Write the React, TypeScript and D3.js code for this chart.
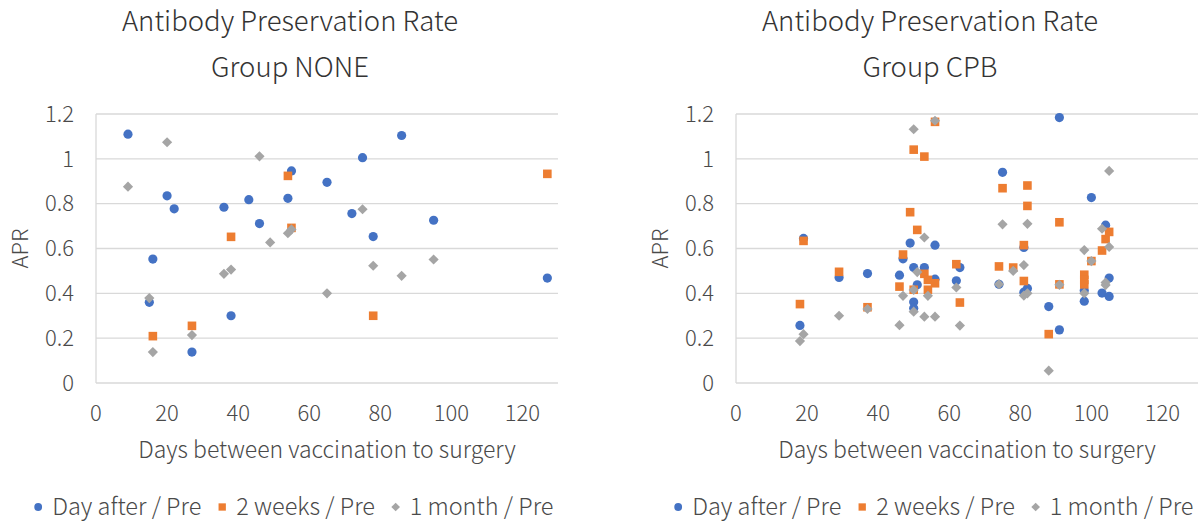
import React, { useEffect, useRef } from 'react';
import * as d3 from 'd3';

const xTicks = [0, 20, 40, 60, 80, 100, 120];
const yTicks = [0, 0.2, 0.4, 0.6, 0.8, 1, 1.2];
const seriesNames = ['Day after / Pre', '2 weeks / Pre', '1 month / Pre'];
const seriesColors = ['#4472C4', '#ED7D31', '#A5A5A5'];

// [days, APR]
const noneDayAfter = [
  [9, 1.11], [15, 0.36], [16, 0.553], [20, 0.835], [22, 0.777], [27, 0.138], [36, 0.784],
  [38, 0.3], [43, 0.818], [46, 0.711], [54, 0.824], [55, 0.946], [65, 0.895], [72, 0.756],
  [75, 1.005], [78, 0.653], [86, 1.104], [95, 0.726], [127, 0.468],
];
const noneTwoWeeks = [
  [16, 0.209], [27, 0.255], [38, 0.652], [54, 0.924], [55, 0.692], [78, 0.3], [127, 0.933],
];
const noneOneMonth = [
  [9, 0.876], [15, 0.379], [16, 0.138], [20, 1.074], [27, 0.214], [36, 0.487], [38, 0.506],
  [46, 1.011], [49, 0.627], [54, 0.668], [55, 0.685], [65, 0.4], [75, 0.775], [78, 0.523],
  [86, 0.478], [95, 0.551],
];

const cpbDayAfter = [
  [18, 0.257], [19, 0.645], [29, 0.471], [37, 0.488], [46, 0.481], [47, 0.554], [49, 0.624],
  [50, 0.515], [50, 0.361], [50, 0.334], [51, 0.438], [53, 0.515], [56, 0.615], [56, 0.463],
  [62, 0.456], [63, 0.515], [74, 0.44], [75, 0.94], [81, 0.605], [81, 0.405], [82, 0.422],
  [88, 0.341], [91, 1.184], [91, 0.237], [98, 0.413], [98, 0.365], [100, 0.827], [103, 0.401],
  [104, 0.704], [105, 0.468], [105, 0.386],
];
const cpbTwoWeeks = [
  [18, 0.352], [19, 0.634], [29, 0.496], [37, 0.338], [46, 0.43], [47, 0.573], [49, 0.762],
  [50, 1.041], [50, 0.416], [51, 0.683], [53, 1.01], [53, 0.487], [54, 0.46], [54, 0.416],
  [56, 1.165], [56, 0.445], [62, 0.53], [63, 0.359], [74, 0.52], [75, 0.869], [78, 0.515],
  [81, 0.615], [81, 0.455], [82, 0.881], [82, 0.79], [88, 0.218], [91, 0.717], [91, 0.44],
  [98, 0.483], [98, 0.46], [98, 0.44], [100, 0.544], [103, 0.591], [104, 0.642], [105, 0.674],
];
const cpbOneMonth = [
  [18, 0.187], [19, 0.218], [29, 0.3], [37, 0.33], [46, 0.258], [47, 0.389], [50, 1.132],
  [50, 0.415], [50, 0.318], [51, 0.495], [53, 0.649], [53, 0.296], [54, 0.389], [56, 1.17],
  [56, 0.296], [62, 0.426], [63, 0.256], [74, 0.441], [75, 0.708], [78, 0.5], [81, 0.526],
  [81, 0.39], [82, 0.71], [82, 0.4], [88, 0.055], [91, 0.438], [98, 0.593], [98, 0.4],
  [100, 0.544], [103, 0.688], [104, 0.448], [104, 0.437], [105, 0.607], [105, 0.946],
];

const charts = [
  { title: 'Group NONE', offset: 0, series: [noneDayAfter, noneTwoWeeks, noneOneMonth] },
  { title: 'Group CPB', offset: 640, series: [cpbDayAfter, cpbTwoWeeks, cpbOneMonth] },
];

const FONT = '"Noto Sans CJK JP", "Noto Sans", sans-serif';
const TEXT = '#4a4a4a';
const GRID = '#D9D9D9';

function addMarker(g, i, cx, cy, scale = 1) {
  if (i === 0) {
    g.append('circle').attr('cx', cx).attr('cy', cy).attr('r', 4.6 * scale)
      .attr('fill', seriesColors[0]);
  } else if (i === 1) {
    const s = 8.6 * scale;
    g.append('rect').attr('x', cx - s / 2).attr('y', cy - s / 2).attr('width', s).attr('height', s)
      .attr('fill', seriesColors[1]);
  } else {
    g.append('path')
      .attr('d', d3.symbol(d3.symbolSquare, 52 * scale * scale)())
      .attr('transform', `translate(${cx},${cy}) rotate(45)`)
      .attr('fill', seriesColors[2]);
  }
}

function drawChart(svg, chart) {
  const off = chart.offset;
  const x = d3.scaleLinear().domain([0, 130]).range([96 + off, 558 + off]);
  const y = d3.scaleLinear().domain([0, 1.2]).range([383, 114]);
  const g = svg.append('g').attr('font-family', FONT).attr('font-weight', 300).attr('fill', TEXT);

  const cx = 290 + off;
  g.append('text').attr('x', cx).attr('y', 31).attr('text-anchor', 'middle')
    .attr('font-size', 27.5).attr('fill', '#333').text('Antibody Preservation Rate');
  g.append('text').attr('x', cx).attr('y', 77).attr('text-anchor', 'middle')
    .attr('font-size', 27.5).attr('fill', '#333').text(chart.title);

  g.selectAll('line.grid').data(yTicks).join('line')
    .attr('x1', x(0)).attr('x2', x(130)).attr('y1', (d) => y(d)).attr('y2', (d) => y(d))
    .attr('stroke', GRID).attr('stroke-width', 1.3);
  g.append('line').attr('x1', x(0)).attr('x2', x(0)).attr('y1', y(0)).attr('y2', y(1.2))
    .attr('stroke', GRID).attr('stroke-width', 1.3);

  g.selectAll('text.ytick').data(yTicks).join('text')
    .attr('x', x(0) - 22).attr('y', (d) => y(d)).attr('dy', '0.35em')
    .attr('text-anchor', 'end').attr('font-size', 22)
    .text((d) => d3.format('~g')(d));
  g.selectAll('text.xtick').data(xTicks).join('text')
    .attr('x', (d) => x(d)).attr('y', 413).attr('dy', '0.35em')
    .attr('text-anchor', 'middle').attr('font-size', 22)
    .text((d) => d);

  g.append('text').attr('x', (x(0) + x(130)) / 2).attr('y', 458).attr('text-anchor', 'middle')
    .attr('font-size', 23).text('Days between vaccination to surgery');
  g.append('text').attr('transform', `translate(${20 + off},${(y(0) + y(1.2)) / 2}) rotate(-90)`)
    .attr('dy', '0.35em').attr('text-anchor', 'middle').attr('font-size', 22).text('APR');

  const marks = svg.append('g');
  chart.series.forEach((pts, i) => {
    pts.forEach(([d, v]) => addMarker(marks, i, x(d), y(v)));
  });

  // legend, centred under the chart
  const leg = svg.append('g').attr('font-family', FONT).attr('font-weight', 300)
    .attr('font-size', 23.5).attr('fill', TEXT);
  const items = seriesNames.map((name, i) => {
    const item = leg.append('g');
    addMarker(item, i, 0, 0, 0.85);
    item.append('text').attr('x', 14).attr('dy', '0.35em').text(name);
    return item;
  });
  const widths = items.map((it) => it.node().getBBox().width);
  const gap = 17;
  const total = d3.sum(widths) + gap * (items.length - 1);
  let lx = 294 + off - total / 2 + 4;
  items.forEach((it, i) => {
    it.attr('transform', `translate(${lx},507)`);
    lx += widths[i] + gap;
  });
}

function App() {
  const svgRef = useRef(null);
  useEffect(() => {
    const svg = d3.select(svgRef.current);
    svg.selectAll('*').remove();
    charts.forEach((c) => drawChart(svg, c));
  }, []);
  return (
    <svg ref={svgRef} width={1204} height={522}
      style={{ position: 'absolute', left: 0, top: 0, background: '#fff' }} />
  );
}

export default App;
